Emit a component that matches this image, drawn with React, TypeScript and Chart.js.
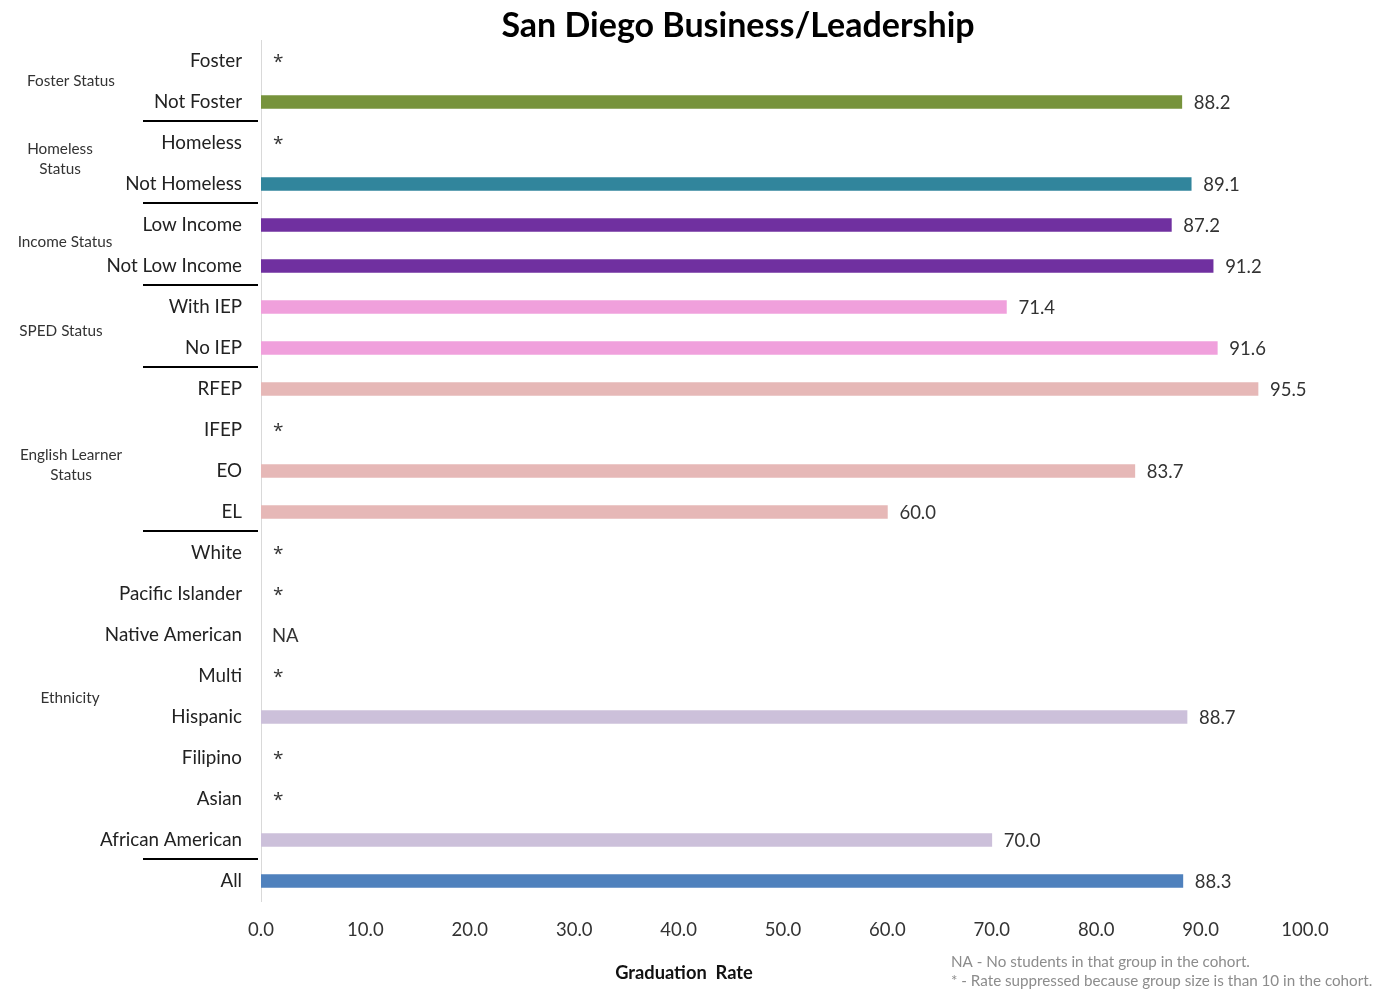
import React, { useEffect, useRef } from "react";
import { Chart, registerables } from "chart.js";

Chart.register(...registerables);

const categories = [
  "Foster", "Not Foster", "Homeless", "Not Homeless", "Low Income", "Not Low Income",
  "With IEP", "No IEP", "RFEP", "IFEP", "EO", "EL", "White", "Pacific Islander",
  "Native American", "Multi", "Hispanic", "Filipino", "Asian", "African American", "All",
];
const values: (number | null)[] = [
  null, 88.2, null, 89.1, 87.2, 91.2, 71.4, 91.6, 95.5, null, 83.7, 60.0,
  null, null, null, null, 88.7, null, null, 70.0, 88.3,
];
const missingLabels = [
  "*", "", "*", "", "", "", "", "", "", "*", "", "", "*", "*", "NA", "*", "", "*", "*", "", "",
];
const barColors = [
  "#77933C", "#77933C", "#31859C", "#31859C", "#7030A0", "#7030A0",
  "#F0A0DC", "#F0A0DC", "#E6B8B7", "#E6B8B7", "#E6B8B7", "#E6B8B7",
  "#CCC0DA", "#CCC0DA", "#CCC0DA", "#CCC0DA", "#CCC0DA", "#CCC0DA", "#CCC0DA", "#CCC0DA",
  "#4F81BD",
];
const groupLabels = [
  { lines: ["Foster Status"], from: 0, to: 1, x: 71, dy: 0 },
  { lines: ["Homeless", "Status"], from: 2, to: 3, x: 60, dy: -4 },
  { lines: ["Income Status"], from: 4, to: 5, x: 65, dy: -3 },
  { lines: ["SPED Status"], from: 6, to: 7, x: 61, dy: 4 },
  { lines: ["English Learner", "Status"], from: 8, to: 11, x: 71, dy: 15 },
  { lines: ["Ethnicity"], from: 12, to: 19, x: 70, dy: 2 },
];
const separatorsAfter = [1, 3, 5, 7, 11, 19];
const xTicks = [0, 10, 20, 30, 40, 50, 60, 70, 80, 90, 100];
const title = "San Diego Business/Leadership";
const xTitle = "Graduation  Rate";
const footnotes = [
  "NA - No students in that group in the cohort.",
  "* - Rate suppressed because group size is than 10 in the cohort.",
];

const FONT = "Lato, 'Open Sans', sans-serif";

const annotate = {
  id: "annotate",
  afterDraw(chart: any) {
    const ctx = chart.ctx;
    const y = chart.scales.y;
    const x = chart.scales.x;
    ctx.save();
    // value labels
    ctx.fillStyle = "#333";
    ctx.textAlign = "left";
    ctx.textBaseline = "middle";
    values.forEach((v, i) => {
      const py = y.getPixelForValue(i);
      if (v === null) {
        const t = missingLabels[i];
        if (t === "*") {
          ctx.font = `19px 'Open Sans', sans-serif`;
          ctx.fillText(t, x.getPixelForValue(0) + 12, py + 2);
        } else {
          ctx.font = `18.5px ${FONT}`;
          ctx.fillText(t, x.getPixelForValue(0) + 11, py + 1);
        }
      } else {
        ctx.font = `18.5px ${FONT}`;
        ctx.fillText(v.toFixed(1), x.getPixelForValue(v) + 12, py + 1);
      }
    });
    // separators
    ctx.strokeStyle = "#000";
    ctx.lineWidth = 2;
    separatorsAfter.forEach((i) => {
      const py = Math.round((y.getPixelForValue(i) + y.getPixelForValue(i + 1)) / 2) - 2;
      ctx.beginPath();
      ctx.moveTo(143, py);
      ctx.lineTo(258, py);
      ctx.stroke();
    });
    // group labels
    ctx.font = `15.3px ${FONT}`;
    ctx.fillStyle = "#333";
    ctx.textAlign = "center";
    groupLabels.forEach((g) => {
      const cy = (y.getPixelForValue(g.from) + y.getPixelForValue(g.to)) / 2 + g.dy;
      const n = g.lines.length;
      g.lines.forEach((l, k) => {
        ctx.fillText(l, g.x, cy + (k - (n - 1) / 2) * 20);
      });
    });
    // title
    ctx.font = `bold 34px ${FONT}`;
    ctx.fillStyle = "#000";
    ctx.textAlign = "center";
    ctx.fillText(title, 738, 26);
    // x title
    ctx.font = `bold 18.3px ${FONT}`;
    ctx.fillStyle = "#111";
    ctx.fillText(xTitle, 684, 973);
    // footnotes
    ctx.font = `15.2px ${FONT}`;
    ctx.fillStyle = "#8c8c8c";
    ctx.textAlign = "left";
    footnotes.forEach((f, k) => ctx.fillText(f, 951, 962 + k * 19));
    ctx.restore();
  },
};

export default function App() {
  const ref = useRef<HTMLCanvasElement>(null);
  useEffect(() => {
    if (!ref.current) return;
    const chart = new Chart(ref.current, {
      type: "bar",
      data: {
        labels: categories,
        datasets: [
          {
            data: values,
            backgroundColor: barColors,
            barThickness: 13,
          },
        ],
      },
      options: {
        indexAxis: "y",
        animation: false,
        responsive: true,
        maintainAspectRatio: false,
        layout: { padding: { top: 40.5, right: 68, left: 0, bottom: 0 } },
        plugins: {
          legend: { display: false },
          tooltip: { enabled: false },
          title: { display: false },
        },
        scales: {
          x: {
            min: 0,
            max: 100,
            afterBuildTicks: (s: any) => {
              s.ticks = xTicks.map((v) => ({ value: v }));
            },
            afterFit: (s: any) => {
              s.height = 93.5;
            },
            grid: { display: false, drawTicks: false },
            border: { display: false },
            ticks: {
              padding: 17,
              color: "#333",
              font: { family: FONT, size: 18.5 },
              maxRotation: 0,
              callback: (v: any) => Number(v).toFixed(1),
            },
          },
          y: {
            afterFit: (s: any) => {
              s.width = 261;
            },
            grid: { display: false, drawTicks: false },
            border: { display: true, color: "#d9d9d9", width: 1 },
            ticks: {
              padding: 19,
              color: "#222",
              font: { family: FONT, size: 18.8 },
              autoSkip: false,
            },
          },
        },
      },
      plugins: [annotate],
    });
    return () => chart.destroy();
  }, []);
  return (
    <div style={{ position: "fixed", left: 0, top: 0, width: 1373, height: 995, background: "#fff" }}>
      <canvas ref={ref} />
    </div>
  );
}
